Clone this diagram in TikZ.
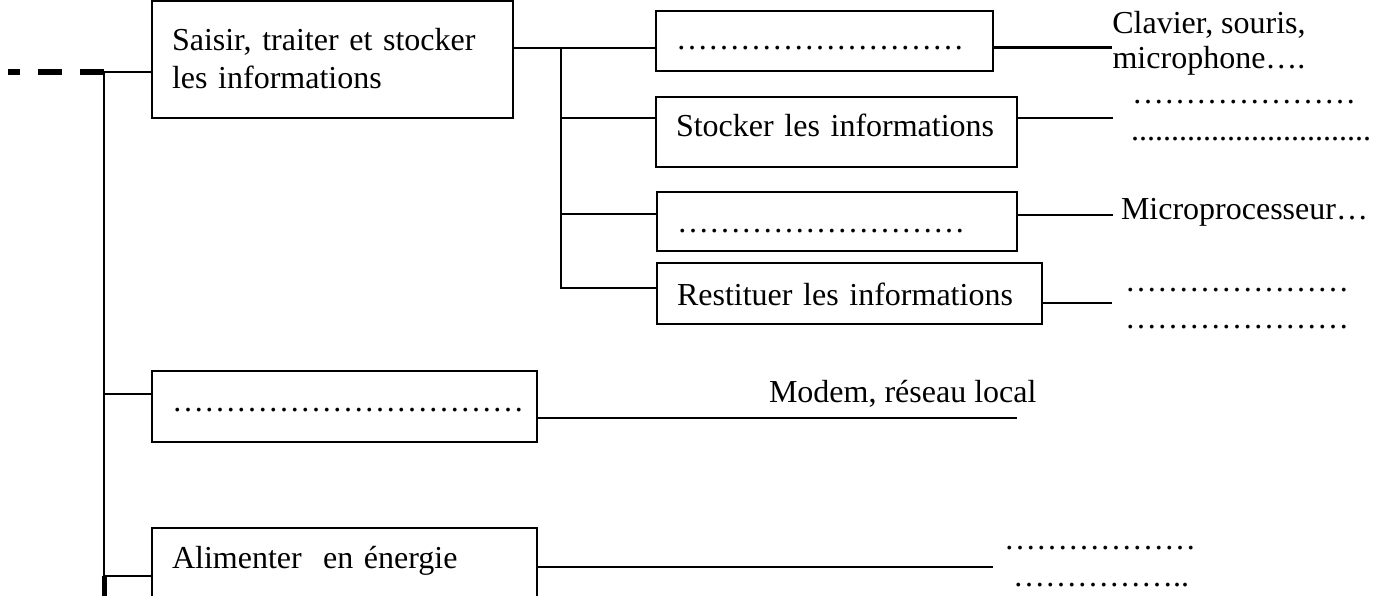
\documentclass[tikz,border=0pt]{standalone}
\usepackage{fontspec}
\setmainfont{Liberation Serif}

\begin{document}
\begin{tikzpicture}[x=1pt,y=-1pt,line width=2pt,
  font=\fontsize{32}{38}\selectfont,
  box/.style={draw,anchor=north west,outer sep=0pt,inner xsep=20pt,inner ysep=0pt,
    align=left,text height=40pt},
  note/.style={inner sep=0pt,anchor=base west}]
\useasboundingbox (0,0) rectangle (1375,596);
\clip (0,0) rectangle (1375,596);

% boxes
\node[box,text width=321pt,text height=50pt,text depth=67pt] (saisir) at (152,1)
  {Saisir, traiter et stocker\\les informations};
\node[box,text width=297pt,text height=39pt,text depth=21pt] (saisie) at (656,11) {………………………};
\node[box,text width=321pt,text depth=30pt] (stocker) at (656,97) {Stocker les informations};
\node[box,text width=320pt,text depth=19pt] (traiter) at (657,192) {………………………};
\node[box,text width=345pt,text height=42pt,text depth=19pt] (restituer) at (657,263)
  {Restituer les informations};
\node[box,text width=345pt,text depth=31pt] (communiquer) at (152,371) {……………………………};
\node[box,text width=345pt,text depth=61pt] (alimenter) at (152,528) {Alimenter\ \ en énergie};

% texts on the right
\node[note,anchor=center,align=center,font=\fontsize{32}{35}\selectfont] (clavier) at (1209,43)
  {Clavier, souris,\\microphone….};
\node[note] (stockage1) at (1131,104) {…………………};
\node[note] (stockage2) at (1130,141) {..............................};
\node[note] (micro) at (1120,219) {Microprocesseur…};
\node[note] (sortie1) at (1124,291) {…………………};
\node[note] (sortie2) at (1124,328) {…………………};
\node[note] (modem) at (768,402) {Modem, réseau local};
\node[note] (energie1) at (1003,549) {………………};
\node[note] (energie2) at (1012,586) {……………..};

% main trunk
\coordinate (tronc) at (104,72);
\coordinate (tiret) at (8,72);
\coordinate (reseau) at (104,394);
\coordinate (pied) at (104,576);
\coordinate (bas) at (104,596);
\draw[line width=5.5pt,dash pattern=on 24pt off 18pt] (tronc) -- (tiret);
\draw (tronc) -- (pied);
\draw[line width=5pt] (pied) -- (bas);
\draw (tronc) -- (tronc -| saisir.west);
\draw (reseau) -- (reseau -| communiquer.west);
\draw (pied) -- (pied -| alimenter.west);

% second trunk
\coordinate (fourche) at (561,48);
\coordinate (b1) at (561,118);
\coordinate (b2) at (561,214);
\coordinate (fin) at (561,288);
\draw (fourche -| saisir.east) -- (fourche -| saisie.west);
\draw (fourche) -- (fin) -- (fin -| restituer.west);
\draw (b1) -- (b1 -| stocker.west);
\draw (b2) -- (b2 -| traiter.west);

% lines to the right
\coordinate (c1) at (1112,48);
\coordinate (c2) at (1113,118);
\coordinate (c3) at (1113,215);
\coordinate (c4) at (1112,303);
\coordinate (c5) at (1017,418);
\coordinate (c6) at (993,567);
\draw[line width=3pt] (c1 -| saisie.east) -- (c1);
\draw (c2 -| stocker.east) -- (c2);
\draw (c3 -| traiter.east) -- (c3);
\draw (c4 -| restituer.east) -- (c4);
\draw (c5 -| communiquer.east) -- (c5);
\draw (c6 -| alimenter.east) -- (c6);
\end{tikzpicture}
\end{document}
